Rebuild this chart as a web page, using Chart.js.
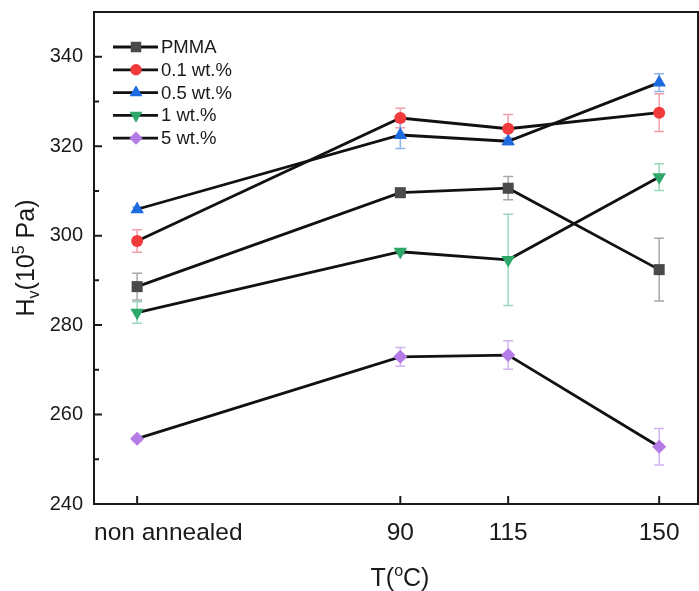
<!DOCTYPE html>
<html>
<head>
<meta charset="utf-8">
<script src="https://cdn.jsdelivr.net/npm/chart.js@4.4.0/dist/chart.umd.min.js"></script>
<style>
html,body{margin:0;padding:0;background:#fff;}
canvas{display:block;}
</style>
</head>
<body>
<canvas id="c" width="699" height="591"></canvas>
<script>
// ---- data ----
const categories = ["non annealed", "90", "115", "150"];
const xPositions = [29, 90, 115, 150];
const seriesNames = ["PMMA", "0.1 wt.%", "0.5 wt.%", "1 wt.%", "5 wt.%"];
const pmma      = [288.6, 309.6, 310.6, 292.4];
const pmmaErr   = [3.0, 0.6, 2.6, 7.0];
const wt01      = [298.8, 326.3, 323.9, 327.5];
const wt01Err   = [2.5, 2.2, 3.2, 4.2];
const wt05      = [305.9, 322.5, 321.1, 334.2];
const wt05Err   = [0.5, 3.0, 0.8, 2.0];
const wt1       = [282.8, 296.4, 294.6, 313.1];
const wt1Err    = [2.4, 0.5, 10.2, 3.0];
const wt5       = [254.6, 272.9, 273.3, 252.8];
const wt5Err    = [0.5, 2.1, 3.2, 4.1];
const yTickLabels = [240, 260, 280, 300, 320, 340];

const values = [pmma, wt01, wt05, wt1, wt5];
const errors = [pmmaErr, wt01Err, wt05Err, wt1Err, wt5Err];
const markerColors = ["#4a4a4a", "#f23b3b", "#1e6be0", "#2ea86a", "#b47ae6"];
const errColors = ["#a8a8a8", "#f0a0a8", "#8fb2ea", "#9bd8bb", "#d2b2f2"];
const pointStyles = ["rect", "circle", "triangle", "triangle", "rectRot"];
const pointRot = [0, 0, 0, 180, 0];
const pointRad = [7.8, 6, 7.8, 7.8, 7];

const FONT = "'Liberation Sans', Arial, sans-serif";

const datasets = values.map((vals, i) => ({
  label: seriesNames[i],
  data: vals.map((v, j) => ({x: xPositions[j], y: v})),
  borderColor: "#111",
  borderWidth: 2.8,
  pointStyle: pointStyles[i],
  pointRotation: pointRot[i],
  pointRadius: pointRad[i],
  pointBackgroundColor: markerColors[i],
  pointBorderColor: markerColors[i],
  pointBorderWidth: 0,
  errs: errors[i],
  errColor: errColors[i],
  fill: false,
  tension: 0
}));

function drawMarker(ctx, style, r, rot, x, y, color) {
  ctx.save();
  ctx.fillStyle = color;
  ctx.strokeStyle = color;
  const opts = {pointStyle: style, radius: r, rotation: rot, borderWidth: 0};
  if (Chart.helpers && Chart.helpers.drawPoint) {
    Chart.helpers.drawPoint(ctx, opts, x, y);
  }
  ctx.restore();
}

const errorBarPlugin = {
  id: "errorBars",
  beforeDatasetsDraw(chart) {
    const ctx = chart.ctx;
    const ys = chart.scales.y;
    chart.data.datasets.forEach((ds, i) => {
      const meta = chart.getDatasetMeta(i);
      ctx.save();
      ctx.strokeStyle = ds.errColor;
      ctx.lineWidth = 1.5;
      meta.data.forEach((pt, j) => {
        const v = ds.data[j].y, e = ds.errs[j];
        const yt = ys.getPixelForValue(v + e), yb = ys.getPixelForValue(v - e);
        ctx.beginPath();
        ctx.moveTo(pt.x, yt); ctx.lineTo(pt.x, yb);
        ctx.moveTo(pt.x - 5, yt); ctx.lineTo(pt.x + 5, yt);
        ctx.moveTo(pt.x - 5, yb); ctx.lineTo(pt.x + 5, yb);
        ctx.stroke();
      });
      ctx.restore();
    });
  }
};

const framePlugin = {
  id: "frame",
  afterDraw(chart) {
    const ctx = chart.ctx;
    const a = chart.chartArea;
    const xs = chart.scales.x, ys = chart.scales.y;
    ctx.save();
    ctx.strokeStyle = "#1a1a1a";
    ctx.lineWidth = 2;
    ctx.strokeRect(a.left, a.top, a.right - a.left, a.bottom - a.top);
    // inward ticks
    ctx.beginPath();
    for (let v = 240; v <= 350; v += 10) {
      const y = ys.getPixelForValue(v);
      const len = (v % 20 === 0) ? 8 : 5;
      ctx.moveTo(a.left, y); ctx.lineTo(a.left + len, y);
    }
    xPositions.forEach(xv => {
      const x = xs.getPixelForValue(xv);
      ctx.moveTo(x, a.bottom); ctx.lineTo(x, a.bottom - 8);
    });
    ctx.stroke();

    // x tick labels
    ctx.fillStyle = "#1a1a1a";
    ctx.font = "24.5px " + FONT;
    ctx.textBaseline = "middle";
    categories.forEach((lab, k) => {
      const x = xs.getPixelForValue(xPositions[k]);
      if (k === 0) {
        ctx.textAlign = "left";
        ctx.fillText(lab, a.left, 533);
      } else {
        ctx.textAlign = "center";
        ctx.fillText(lab, x, 533);
      }
    });

    // legend
    const lx0 = 113, lx1 = 158, mx = 136, tx = 161;
    ctx.font = "18.5px " + FONT;
    ctx.textBaseline = "middle";
    ctx.textAlign = "left";
    seriesNames.forEach((name, i) => {
      const y = 47 + i * 22.8;
      ctx.strokeStyle = "#111";
      ctx.lineWidth = 2.8;
      ctx.beginPath(); ctx.moveTo(lx0, y); ctx.lineTo(lx1, y); ctx.stroke();
      drawMarker(ctx, pointStyles[i], pointRad[i] * 0.95, pointRot[i], mx, y, markerColors[i]);
      ctx.fillStyle = "#1a1a1a";
      ctx.fillText(name, tx, y + 1);
    });

    // axis titles
    ctx.fillStyle = "#1a1a1a";
    const big = "25px " + FONT, small = "16px " + FONT;
    ctx.textBaseline = "alphabetic";
    ctx.textAlign = "left";
    const xParts = [["T(", big, 0], ["o", small, -10], ["C)", big, 0]];
    let tw = 0;
    xParts.forEach(p => { ctx.font = p[1]; tw += ctx.measureText(p[0]).width; });
    let cx = 400 - tw / 2;
    xParts.forEach(p => { ctx.font = p[1]; ctx.fillText(p[0], cx, 586 + p[2]); cx += ctx.measureText(p[0]).width; });

    ctx.save();
    ctx.translate(34, (a.top + a.bottom) / 2);
    ctx.rotate(-Math.PI / 2);
    const yParts = [["H", big, 0], ["v", small, 5], ["(10", big, 0], ["5", small, -10], [" Pa)", big, 0]];
    tw = 0;
    yParts.forEach(p => { ctx.font = p[1]; tw += ctx.measureText(p[0]).width; });
    cx = -tw / 2;
    yParts.forEach(p => { ctx.font = p[1]; ctx.fillText(p[0], cx, p[2]); cx += ctx.measureText(p[0]).width; });
    ctx.restore();

    ctx.restore();
  }
};

new Chart(document.getElementById("c"), {
  type: "line",
  data: {datasets},
  options: {
    responsive: false,
    animation: false,
    events: [],
    layout: {autoPadding: false, padding: {top: 12, right: 1, left: 0, bottom: 0}},
    plugins: {legend: {display: false}, tooltip: {enabled: false}, title: {display: false}},
    scales: {
      x: {
        type: "linear",
        min: 19, max: 159,
        grid: {display: false, drawTicks: false},
        border: {display: false},
        afterBuildTicks: (s) => { s.ticks = xPositions.map(v => ({value: v})); },
        afterFit: (s) => { s.height = 87; s.paddingLeft = 0; s.paddingRight = 0; s.paddingTop = 0; s.paddingBottom = 0; },
        ticks: {display: false}
      },
      y: {
        min: 240, max: 350,
        grid: {display: false, drawTicks: false},
        border: {display: false},
        afterBuildTicks: (s) => { s.ticks = yTickLabels.map(v => ({value: v})); },
        afterFit: (s) => { s.width = 94; s.paddingLeft = 0; s.paddingRight = 0; s.paddingTop = 0; s.paddingBottom = 0; },
        ticks: {
          padding: 11,
          color: "#1a1a1a",
          font: {family: FONT, size: 20},
          callback: (v) => String(v)
        }
      }
    }
  },
  plugins: [errorBarPlugin, framePlugin]
});
</script>
</body>
</html>
